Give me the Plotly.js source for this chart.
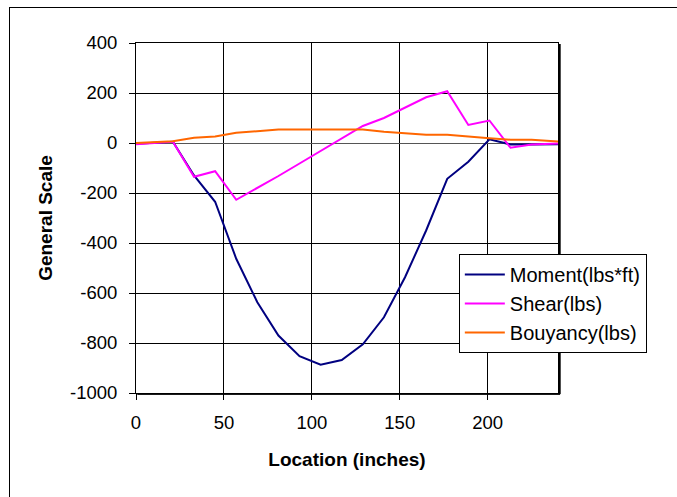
<!DOCTYPE html>
<html>
<head>
<meta charset="utf-8">
<script src="https://cdn.plot.ly/plotly-3.0.1.min.js"></script>
<style>
html, body { margin: 0; padding: 0; width: 677px; height: 497px; overflow: hidden; background: #fff; }
#chart { position: absolute; left: 0; top: 0; width: 677px; height: 497px; }
#frame { position: absolute; left: 9px; top: 7px; width: 720px; height: 540px; border: 1px solid #000; pointer-events: none; }
</style>
</head>
<body>
<div id="chart"></div>
<div id="frame"></div>
<script>
// Data
const location_in = [0, 21, 33, 45, 57, 69, 81, 93, 105, 117, 129, 141, 153, 165, 177, 189, 201, 213, 225, 240];
const moment = [-3, 5, -130, -235, -463, -637, -770, -853, -887, -868, -805, -697, -537, -350, -143, -75, 15, -6, -6, -5];
const shear = [-5, 5, -135, -113, -227, -180, -132, -82, -33, 17, 68, 100, 140, 183, 207, 72, 90, -19, -6, -2];
const bouyancy = [0, 7, 21, 26, 41, 46, 54, 54, 54, 54, 54, 45, 40, 33, 33, 25, 19, 13, 13, 6];
const seriesNames = ['Moment(lbs*ft)', 'Shear(lbs)', 'Bouyancy(lbs)'];
const xTicks = [0, 50, 100, 150, 200];
const yTicks = [400, 200, 0, -200, -400, -600, -800, -1000];

const colors = ['#000080', '#FF00FF', '#FF6600'];
const ys = [moment, shear, bouyancy];
const traces = ys.map((y, i) => ({
  x: location_in, y: y, type: 'scatter', mode: 'lines',
  name: seriesNames[i],
  line: { color: colors[i], width: 2 }
}));

const font = 'Arial, "Liberation Sans", sans-serif';
const layout = {
  width: 677, height: 497,
  margin: { l: 136, r: 119, t: 43, b: 104 },
  paper_bgcolor: 'rgba(0,0,0,0)', plot_bgcolor: '#fff',
  font: { family: font, size: 18.5, color: '#000' },
  showlegend: true,
  legend: {
    x: 0.765, y: 0.397, xanchor: 'left', yanchor: 'top',
    bgcolor: '#fff', bordercolor: '#000', borderwidth: 1,
    font: { family: font, size: 20, color: '#000' },
    itemwidth: 40
  },
  xaxis: {
    range: [0, 240], tickvals: xTicks, ticktext: xTicks.map(String),
    showgrid: true, gridcolor: '#000', gridwidth: 1,
    zeroline: false, showline: true, linecolor: '#000', linewidth: 1, mirror: true,
    ticks: 'outside', ticklen: 6, tickcolor: '#000', ticklabelstandoff: 7,
    tickfont: { family: font, size: 18.5, color: '#000' },
    title: { text: '<b>Location (inches)</b>', font: { family: font, size: 19, color: '#000' }, standoff: 20 },
    automargin: false
  },
  yaxis: {
    range: [-1000, 400], tickvals: yTicks, ticktext: yTicks.map(String),
    showgrid: true, gridcolor: '#000', gridwidth: 1,
    zeroline: true, zerolinecolor: '#555', zerolinewidth: 1,
    showline: true, linecolor: '#000', linewidth: 1, mirror: true,
    ticks: 'outside', ticklen: 6, tickcolor: '#000', ticklabelstandoff: 8,
    tickfont: { family: font, size: 18.5, color: '#000' },
    title: { text: '<b>General Scale</b>', font: { family: font, size: 19, color: '#000' }, standoff: 12 },
    automargin: false
  },
  shapes: [
    { type: 'line', xref: 'paper', yref: 'paper', x0: 1.004, x1: 1.004, y0: -0.003, y1: 0.997, line: { color: '#000', width: 2 } },
    { type: 'line', xref: 'paper', yref: 'paper', x0: 0.003, x1: 1.005, y0: -0.004, y1: -0.004, line: { color: '#000', width: 1 } }
  ]
};

Plotly.newPlot('chart', traces, layout, { displayModeBar: false, staticPlot: true });
</script>
</body>
</html>
